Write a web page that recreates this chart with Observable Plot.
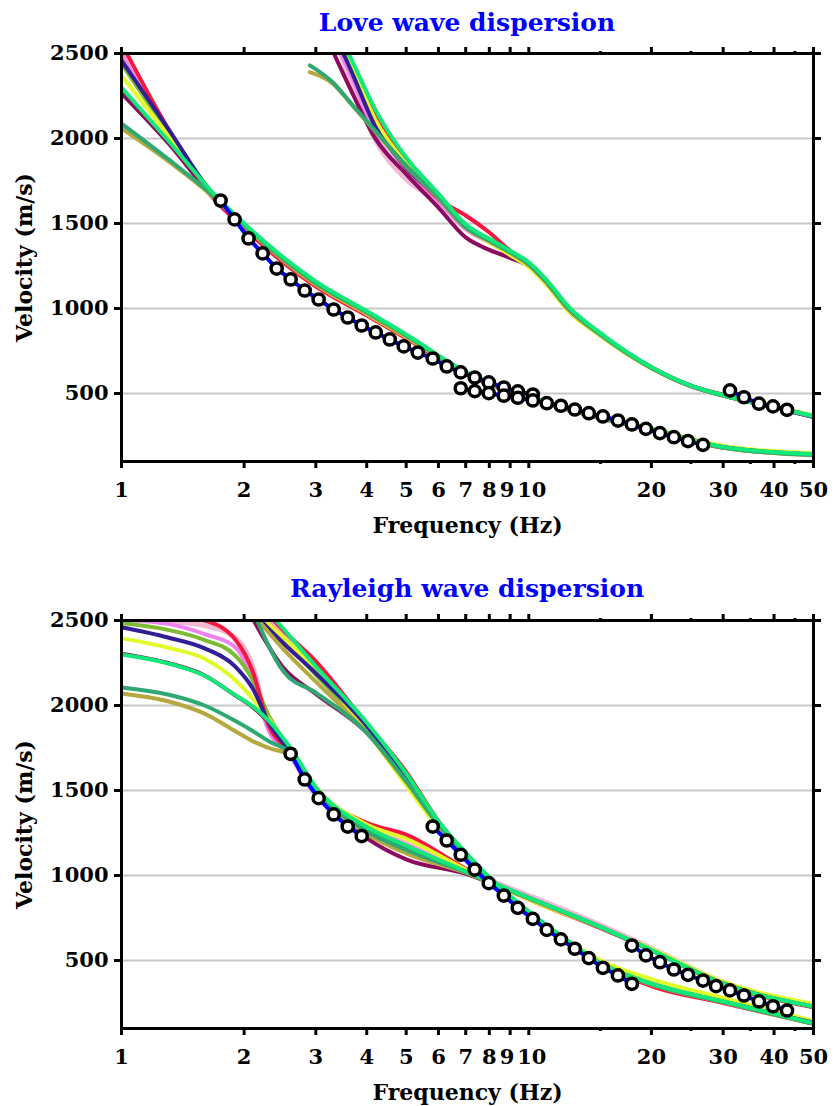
<!DOCTYPE html>
<html><head><meta charset="utf-8">
<script src="https://cdn.jsdelivr.net/npm/d3@7"></script>
<script src="https://cdn.jsdelivr.net/npm/@observablehq/plot@0.6"></script>
<style>
body{margin:0;background:#fff;}
#wrap{position:relative;width:834px;height:1106px;overflow:hidden;background:#fff;}
.title{position:absolute;left:121px;width:692px;text-align:center;font-family:"DejaVu Serif",serif;font-weight:bold;font-size:25px;line-height:25px;color:#0000ff;white-space:nowrap;}
.panel{position:absolute;left:0;}
</style></head><body>
<div id="wrap">
<div class="title" style="top:10px">Love wave dispersion</div>
<div class="panel" id="p1" style="top:40px"></div>
<div class="title" style="top:576px">Rayleigh wave dispersion</div>
<div class="panel" id="p2" style="top:607px"></div>
</div>
<script>
// ---------- data ----------
const models = ["red", "violet", "pink", "yellowgreen", "indigo", "yellow", "purple", "springgreen", "seagreen", "olive"];
const modelColors = ["#f7163f", "#ee82ee", "#f2b8d4", "#7dbb35", "#321e95", "#e2fa2a", "#8c0a5f", "#11e979", "#2fa871", "#b5a83e"];
const drawOrder = ["pink", "violet", "yellowgreen", "purple", "red", "yellow", "indigo", "olive", "seagreen", "springgreen"];

const xTickValues = [1, 2, 3, 4, 5, 6, 7, 8, 9, 10, 20, 30, 40, 50];
const xMinorTicks = [15, 25, 35, 45];
const yTickValues = [500, 1000, 1500, 2000, 2500];
const gridValues = [500, 1000, 1500, 2000];

// Love fundamental mode (model curves)
const freqLoveFund = [1, 1.3, 1.7, 2, 2.5, 3, 4, 5, 7, 10, 15, 20, 30, 50];
const velLoveFund = [
  [2560, 2060, 1640, 1475, 1270, 1130, 960, 825, 615, 475, 355, 285, 182, 140],
  [2495, 2030, 1640, 1475, 1275, 1135, 965, 830, 618, 478, 358, 287, 184, 141],
  [2505, 2010, 1635, 1470, 1272, 1132, 962, 828, 616, 476, 356, 286, 183, 140],
  [2440, 2040, 1655, 1485, 1280, 1140, 970, 835, 620, 480, 360, 290, 186, 143],
  [2459, 2060, 1650, 1488, 1285, 1145, 975, 838, 622, 480, 360, 290, 185, 142],
  [2370, 2020, 1660, 1492, 1283, 1140, 968, 832, 620, 482, 364, 294, 192, 148],
  [2265, 1975, 1640, 1478, 1275, 1135, 965, 830, 618, 478, 358, 288, 184, 141],
  [2300, 1990, 1665, 1500, 1300, 1160, 985, 848, 628, 484, 362, 291, 186, 144],
  [2088, 1880, 1652, 1492, 1290, 1150, 978, 842, 624, 480, 358, 287, 182, 138],
  [2059, 1868, 1645, 1485, 1283, 1143, 972, 836, 620, 478, 357, 286, 181, 137]
];
// Love first higher mode
const freqLoveHigh = [2.9, 3.3, 3.7, 4.2, 5, 6, 7, 8, 9, 10, 11, 12.5, 15, 20, 25, 30, 40, 50];
const velLoveHigh = [
  [2900, 2650, 2428, 2140, 1860, 1645, 1547, 1447, 1340, 1262, 1165, 1003, 850, 655, 547, 492, 422, 368],
  [2850, 2600, 2344, 2020, 1800, 1630, 1470, 1392, 1325, 1255, 1160, 1000, 845, 650, 544, 488, 420, 364],
  [2850, 2620, 2300, 1990, 1760, 1625, 1468, 1390, 1323, 1255, 1160, 1000, 846, 652, 545, 490, 420, 365],
  [2900, 2620, 2385, 2070, 1835, 1650, 1475, 1395, 1327, 1258, 1162, 1000, 846, 650, 544, 488, 420, 365],
  [2900, 2640, 2374, 2070, 1829, 1650, 1478, 1398, 1330, 1258, 1160, 998, 846, 652, 545, 490, 418, 362],
  [2900, 2650, 2405, 2110, 1850, 1660, 1480, 1390, 1315, 1243, 1145, 985, 838, 648, 545, 492, 424, 370],
  [2800, 2515, 2260, 2000, 1790, 1594, 1418, 1345, 1298, 1248, 1158, 998, 844, 650, 544, 488, 420, 364],
  [2950, 2700, 2447, 2170, 1888, 1676, 1495, 1410, 1340, 1272, 1175, 1012, 855, 656, 547, 490, 421, 368],
  [2430, 2331, 2194, 2045, 1841, 1655, 1478, 1398, 1331, 1261, 1165, 1003, 848, 652, 545, 489, 420, 366],
  [2390, 2323, 2190, 2040, 1835, 1650, 1475, 1395, 1328, 1258, 1162, 1000, 845, 650, 544, 488, 420, 365]
];
// Rayleigh fundamental mode
const freqRayFund = [1, 1.3, 1.6, 1.9, 2.1, 2.3, 2.6, 3, 4, 5, 7, 10, 15, 20, 30, 50];
const velRayFund = [
  [2540, 2530, 2500, 2390, 2200, 1880, 1730, 1505, 1310, 1240, 1040, 860, 690, 560, 360, 225],
  [2505, 2480, 2420, 2345, 2150, 1850, 1715, 1495, 1280, 1180, 1025, 872, 700, 565, 368, 232],
  [2505, 2495, 2470, 2400, 2230, 1870, 1700, 1470, 1280, 1190, 1030, 882, 708, 572, 372, 236],
  [2485, 2445, 2385, 2295, 2150, 1940, 1735, 1510, 1270, 1160, 1020, 868, 696, 562, 366, 232],
  [2460, 2400, 2336, 2230, 2100, 1900, 1725, 1500, 1260, 1150, 1015, 865, 694, 560, 365, 228],
  [2395, 2340, 2275, 2150, 2040, 1920, 1745, 1520, 1300, 1215, 1035, 858, 695, 568, 375, 245],
  [2305, 2250, 2177, 2060, 1990, 1900, 1740, 1495, 1220, 1095, 1010, 866, 695, 562, 366, 234],
  [2300, 2248, 2175, 2062, 1995, 1910, 1750, 1520, 1285, 1175, 1025, 870, 698, 562, 364, 230],
  [2106, 2065, 2000, 1910, 1850, 1790, 1720, 1505, 1260, 1150, 1020, 868, 696, 560, 362, 228],
  [2071, 2025, 1952, 1850, 1790, 1750, 1705, 1500, 1245, 1130, 1015, 864, 694, 560, 363, 230]
];
// Rayleigh first higher mode
const freqRayHigh = [2.1, 2.5, 3, 4, 5, 6, 7, 8, 10, 12, 15, 20, 30, 50];
const velRayHigh = [
  [2640, 2440, 2260, 1890, 1610, 1320, 1120, 975, 780, 640, 480, 350, 250, 128],
  [2580, 2400, 2200, 1870, 1575, 1305, 1110, 970, 778, 638, 482, 362, 258, 132],
  [2600, 2420, 2220, 1880, 1580, 1310, 1115, 975, 782, 642, 486, 366, 262, 134],
  [2560, 2380, 2180, 1860, 1565, 1300, 1110, 968, 776, 636, 480, 360, 256, 131],
  [2545, 2365, 2190, 1880, 1575, 1310, 1118, 975, 780, 640, 482, 362, 258, 134],
  [2560, 2400, 2210, 1850, 1530, 1280, 1100, 960, 775, 640, 500, 390, 280, 145],
  [2510, 2220, 2068, 1840, 1560, 1300, 1110, 970, 778, 638, 482, 362, 258, 133],
  [2650, 2450, 2230, 1900, 1600, 1320, 1135, 990, 790, 645, 485, 365, 260, 132],
  [2560, 2200, 2075, 1840, 1555, 1300, 1115, 975, 782, 638, 480, 360, 255, 128],
  [2540, 2330, 2140, 1840, 1550, 1295, 1110, 970, 778, 636, 478, 358, 254, 127]
];

// Observed dispersion picks
const loveObs1F = [1.751, 1.895, 2.051, 2.221, 2.404, 2.602, 2.817, 3.048, 3.318, 3.592, 3.888, 4.209, 4.556, 4.931, 5.338, 5.809, 6.288, 6.806, 7.368, 7.975, 8.682, 9.397, 10.23];
const loveObs1V = [1635, 1524, 1412, 1324, 1235, 1171, 1106, 1053, 994, 947, 900, 859, 818, 777, 741, 706, 659, 624, 594, 565, 535, 512, 494];
const loveObs2F = [6.806, 7.368, 7.975, 8.682, 9.397, 10.23, 11.07, 11.99, 12.97, 14.04, 15.20, 16.55, 17.91, 19.39, 20.98, 22.71, 24.59, 26.77];
const loveObs2V = [531, 514, 502, 487, 475, 459, 443, 428, 406, 384, 365, 341, 318, 292, 267, 243, 220, 198];
const loveObs3F = [31.18, 33.75, 36.74, 39.77, 43.05];
const loveObs3V = [518, 478, 440, 424, 404];

const rayObs1F = [2.602, 2.817, 3.048, 3.318, 3.592, 3.888];
const rayObs1V = [1716, 1565, 1455, 1359, 1288, 1232];
const rayObs2F = [5.809, 6.288, 6.806, 7.368, 7.975, 8.682, 9.397, 10.23, 11.07, 11.99, 12.97, 14.04, 15.20, 16.55, 17.91];
const rayObs2V = [1288, 1206, 1122, 1035, 955, 882, 810, 745, 680, 624, 569, 514, 457, 412, 363];
const rayObs3F = [17.91, 19.39, 20.98, 22.71, 24.59, 26.77, 28.82, 31.18, 33.75, 36.74, 39.77, 43.05];
const rayObs3V = [588, 530, 490, 447, 416, 382, 349, 324, 294, 259, 231, 206];

// ---------- build ----------
function curveRows(freqs, mat, mode) {
  const rows = [];
  mat.forEach((vals, i) => vals.forEach((v, j) => rows.push({f: freqs[j], v, model: models[i], key: models[i] + mode})));
  return rows;
}
function obsRows(list) {
  const rows = [];
  list.forEach(([F, V], s) => F.forEach((f, j) => rows.push({f, v: V[j], seq: s})));
  return rows;
}

function panel(curveSets, obsList, H) {
  const rows = curveSets.flatMap(([F, M, mode]) => curveRows(F, M, mode));
  const obs = obsRows(obsList);
  const lineMarks = drawOrder.map(name => {
    const i = models.indexOf(name);
    return Plot.line(rows.filter(d => d.model === name), {
      x: "f", y: "v", z: "key", stroke: modelColors[i],
      strokeWidth: name === "pink" ? 5 : 4, curve: "monotone-x", clip: true
    });
  });
  const blank = () => "";
  const font = {fill: "black", fontWeight: "bold"};
  const xLab = {text: d => String(d), frameAnchor: "bottom", dy: 29, lineAnchor: "middle", textAnchor: "middle", fontSize: 21, ...font};
  return Plot.plot({
    width: 834, height: H,
    marginLeft: 121, marginRight: 21, marginTop: 13, marginBottom: H - 13 - 408,
    x: {type: "log", domain: [1, 50]},
    y: {domain: [100, 2500]},
    style: {fontFamily: "'DejaVu Serif', serif", fontWeight: "bold", fontSize: "21px", background: "white", color: "black", overflow: "visible"},
    marks: [
      Plot.gridY(gridValues, {stroke: "#c8c8c8", strokeOpacity: 1, strokeWidth: 2}),
      ...lineMarks,
      Plot.line(obs, {x: "f", y: "v", z: "seq", stroke: "#0000ff", strokeWidth: 4, clip: true}),
      Plot.dot(obs, {x: "f", y: "v", r: 5.6, fill: "white", stroke: "black", strokeWidth: 3.5}),
      Plot.frame({stroke: "black", strokeWidth: 3}),
      Plot.axisX(xTickValues, {anchor: "bottom", tickSize: 7, strokeWidth: 3, tickFormat: blank, label: null}),
      Plot.axisX(xMinorTicks, {anchor: "bottom", tickSize: 3, strokeWidth: 3, tickFormat: blank, label: null}),
      Plot.axisX(xTickValues, {anchor: "top", tickSize: 7, strokeWidth: 3, tickFormat: blank, label: null}),
      Plot.axisX(xMinorTicks, {anchor: "top", tickSize: 3, strokeWidth: 3, tickFormat: blank, label: null}),
      Plot.axisY(yTickValues, {anchor: "left", tickSize: 7, strokeWidth: 3, tickFormat: blank, label: null}),
      Plot.axisY(yTickValues, {anchor: "right", tickSize: 7, strokeWidth: 3, tickFormat: blank, label: null}),
      Plot.text(xTickValues.filter(d => d !== 9 && d !== 10), {x: d => d, ...xLab}),
      Plot.text(xTickValues.filter(d => d === 9), {x: d => d, ...xLab, dx: -3}),
      Plot.text(xTickValues.filter(d => d === 10), {x: d => d, ...xLab, dx: 3}),
      Plot.text(yTickValues, {y: d => d, text: d => String(d), frameAnchor: "left", dx: -13, lineAnchor: "middle", textAnchor: "end", fontSize: 21, ...font}),
      Plot.text(["Frequency (Hz)"], {text: d => d, frameAnchor: "bottom", dy: 64, lineAnchor: "middle", textAnchor: "middle", fontSize: 22, ...font}),
      Plot.text(["Velocity (m/s)"], {text: d => d, frameAnchor: "left", dx: -97, rotate: -90, lineAnchor: "middle", textAnchor: "middle", fontSize: 22, ...font})
    ]
  });
}

document.getElementById("p1").append(panel(
  [[freqLoveFund, velLoveFund, "F"], [freqLoveHigh, velLoveHigh, "H"]],
  [[loveObs1F, loveObs1V], [loveObs2F, loveObs2V], [loveObs3F, loveObs3V]], 510));
document.getElementById("p2").append(panel(
  [[freqRayFund, velRayFund, "F"], [freqRayHigh, velRayHigh, "H"]],
  [[rayObs1F, rayObs1V], [rayObs2F, rayObs2V], [rayObs3F, rayObs3V]], 499));
</script>
</body></html>
